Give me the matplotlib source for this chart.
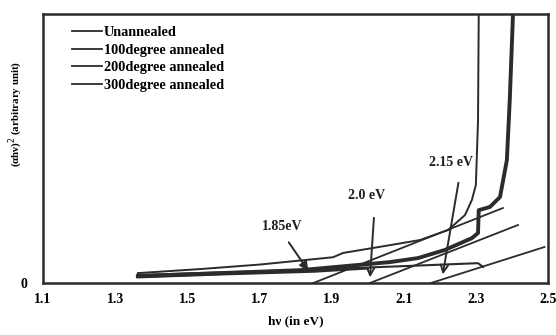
import matplotlib
matplotlib.use("Agg")
import matplotlib.pyplot as plt

# curves: photon energy (eV) vs (alpha h nu)^2, arbitrary units (frame top = 100)
unannealed_x = [1.363, 1.535, 1.702, 1.904, 1.932, 2.062, 2.145, 2.223, 2.270, 2.289, 2.300, 2.306, 2.308]
unannealed_y = [3.7, 5.2, 6.9, 9.6, 11.2, 14.1, 16.0, 19.7, 25.3, 30.9, 36.4, 60.2, 100]
deg100_x = [1.363, 1.674, 1.813, 2.062, 2.140, 2.214, 2.289, 2.306, 2.308, 2.339, 2.367, 2.386, 2.394, 2.403]
deg100_y = [2.6, 4.1, 4.8, 7.8, 9.3, 12.3, 16.7, 18.6, 27.1, 28.3, 32.0, 45.7, 68.0, 100]
deg200_x = [1.363, 1.85, 2.10, 2.306, 2.32]
deg200_y = [3.0, 5.0, 6.3, 7.4, 6.0]
deg300_x = [1.363, 1.60, 1.85, 2.00]
deg300_y = [2.2, 3.3, 4.3, 5.5]

# extrapolated tangent lines
tangent_x = [[1.849, 2.375], [2.006, 2.417], [2.175, 2.49]]
tangent_y = [[0, 27.9], [0, 21.6], [0, 13.4]]

gap_labels = ["1.85eV", "2.0 eV", "2.15 eV"]
gap_text_xy = [(1.763, 21.2), (1.998, 32.7), (2.232, 45.0)]
gap_tail_xy = [(1.777, 16.0), (2.018, 25.3), (2.253, 38.3)]
gap_head_xy = [(1.840, 3.7), (2.006, 1.1), (2.207, 2.2)]

x_ticks = [1.1, 1.3, 1.5, 1.7, 1.9, 2.1, 2.3, 2.5]
legend_labels = ["Unannealed", "100degree annealed", "200degree annealed", "300degree annealed"]

ink = "#2b2b2b"
serif = ["Liberation Serif", "DejaVu Serif"]
plt.rcParams["font.family"] = serif

fig = plt.figure(figsize=(5.56, 3.35), dpi=100)
ax = fig.add_axes([0.0773, 0.155, 0.9083, 0.803])

l1, = ax.plot(unannealed_x, unannealed_y, color=ink, lw=1.4)
l2, = ax.plot(deg100_x, deg100_y, color=ink, lw=2.8)
l3, = ax.plot(deg200_x, deg200_y, color=ink, lw=1.5)
l4, = ax.plot(deg300_x, deg300_y, color=ink, lw=1.8)
for tx, ty in zip(tangent_x, tangent_y):
    ax.plot(tx, ty, color=ink, lw=1.3)

arrow_styles = ["-|>", "->", "->"]
for label, txy, tail, head, style in zip(gap_labels, gap_text_xy, gap_tail_xy, gap_head_xy, arrow_styles):
    ax.text(*txy, label, ha="center", va="center", fontsize=10, weight="bold", color="#1e1e1e")
    ax.annotate("", xy=head, xytext=tail,
                arrowprops=dict(arrowstyle=style, color=ink, lw=1.4, mutation_scale=13))

leg_handles = [plt.Line2D([], [], color=ink, lw=1.3) for _ in legend_labels]
ax.legend(leg_handles, legend_labels, loc="upper left", bbox_to_anchor=(0.058, 0.955),
          frameon=False, prop={"size": 10.3, "weight": "bold"}, handlelength=2.1,
          handletextpad=0.1, labelspacing=0.32, borderaxespad=0, borderpad=0)

ax.set_xlim(1.1, 2.5)
ax.set_ylim(0, 100)
ax.set_xticks(x_ticks)
ax.set_xticklabels([f"{t:.1f}" for t in x_ticks], fontsize=10, weight="bold")
ax.set_yticks([0])
ax.set_yticklabels(["0"], fontsize=10, weight="bold")
ax.tick_params(length=0)
ax.tick_params(axis="x", pad=7)
ax.tick_params(axis="y", pad=11)

ax.set_xlabel("hν (in eV)", fontsize=9.5, weight="bold", labelpad=7)
ax.set_ylabel("(αhν)$^2$ (arbitrary unit)", fontsize=7.8, weight="bold")
ax.yaxis.set_label_coords(-0.036, 0.63)

for spine in ax.spines.values():
    spine.set_linewidth(1.8)
    spine.set_color(ink)

fig.savefig("out.png", dpi=100)
